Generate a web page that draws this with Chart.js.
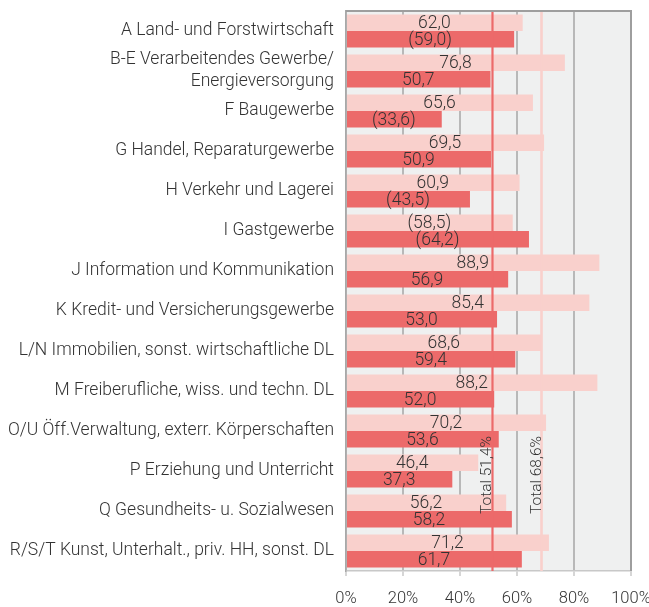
<!DOCTYPE html>
<html>
<head>
<meta charset="utf-8">
<script src="https://cdn.jsdelivr.net/npm/chart.js@4/dist/chart.umd.min.js"></script>
<style>
html,body{margin:0;padding:0;background:#fff;}
#wrap{width:649px;height:607px;position:relative;}
</style>
</head>
<body>
<div id="wrap"><canvas id="c" width="649" height="607"></canvas></div>
<script>
const categories = [
  "A Land- und Forstwirtschaft",
  ["B-E Verarbeitendes Gewerbe/", "Energieversorgung"],
  "F Baugewerbe",
  "G Handel, Reparaturgewerbe",
  "H Verkehr und Lagerei",
  "I Gastgewerbe",
  "J Information und Kommunikation",
  "K Kredit- und Versicherungsgewerbe",
  "L/N Immobilien, sonst. wirtschaftliche DL",
  "M Freiberufliche, wiss. und techn. DL",
  "O/U Öff.Verwaltung, exterr. Körperschaften",
  "P Erziehung und Unterricht",
  "Q Gesundheits- u. Sozialwesen",
  "R/S/T Kunst, Unterhalt., priv. HH, sonst. DL"
];
const lightValues = [62.0, 76.8, 65.6, 69.5, 60.9, 58.5, 88.9, 85.4, 68.6, 88.2, 70.2, 46.4, 56.2, 71.2];
const darkValues  = [59.0, 50.7, 33.6, 50.9, 43.5, 64.2, 56.9, 53.0, 59.4, 52.0, 53.6, 37.3, 58.2, 61.7];
// values shown in parentheses in the reference
const lightUncertain = [false,false,false,false,false,true,false,false,false,false,false,false,false,false];
const darkUncertain  = [true,false,true,false,true,true,false,false,false,false,false,false,false,false];
const totalDark = 51.4;
const totalLight = 68.6;
const xTicks = [0, 20, 40, 60, 80, 100];

const LIGHT = '#f9d0cc';
const DARK = '#ec6a6a';
const TXT = '#333333';
const FONT = 'Roboto';

function fmt(v, unc) {
  const s = v.toFixed(1).replace('.', ',');
  return unc ? '(' + s + ')' : s;
}

const bgPlugin = {
  id: 'bg',
  beforeDraw(chart) {
    const a = chart.chartArea, ctx = chart.ctx;
    ctx.save();
    ctx.fillStyle = '#eff0f0';
    ctx.fillRect(a.left, a.top, a.right - a.left, a.bottom - a.top);
    ctx.restore();
  }
};

const overlayPlugin = {
  id: 'overlay',
  afterDatasetsDraw(chart) {
    const ctx = chart.ctx, a = chart.chartArea;
    const xs = chart.scales.x;
    ctx.save();
    // value labels
    ctx.font = '300 17.5px ' + FONT;
    ctx.fillStyle = TXT;
    ctx.textAlign = 'center';
    ctx.textBaseline = 'middle';
    const uncs = [lightUncertain, darkUncertain];
    chart.data.datasets.forEach((ds, di) => {
      const meta = chart.getDatasetMeta(di);
      meta.data.forEach((bar, i) => {
        const v = ds.data[i];
        const cx = (xs.getPixelForValue(0) + xs.getPixelForValue(v)) / 2;
        ctx.fillText(fmt(v, uncs[di][i]), cx, bar.y + 1);
      });
    });
    // total lines
    const lines = [
      {v: totalDark, color: DARK, w: 2.2},
      {v: totalLight, color: LIGHT, w: 2.6}
    ];
    lines.forEach(l => {
      const x = xs.getPixelForValue(l.v);
      ctx.strokeStyle = l.color;
      ctx.lineWidth = l.w;
      ctx.beginPath();
      ctx.moveTo(x, a.top);
      ctx.lineTo(x, a.bottom);
      ctx.stroke();
    });
    // border top/right
    ctx.strokeStyle = '#9e9e9e';
    ctx.lineWidth = 2;
    ctx.beginPath();
    ctx.moveTo(a.left, a.top);
    ctx.lineTo(a.right, a.top);
    ctx.lineTo(a.right, a.bottom);
    ctx.stroke();
    // rotated total labels
    ctx.font = '300 15.5px ' + FONT;
    ctx.fillStyle = TXT;
    ctx.textAlign = 'left';
    ctx.textBaseline = 'alphabetic';
    const yStart = chart.scales.y.getPixelForValue(12) + 3;
    [[totalDark, 'Total '], [totalLight, 'Total ']].forEach(([v, p]) => {
      const x = xs.getPixelForValue(v) - 1;
      ctx.save();
      ctx.translate(x, yStart);
      ctx.rotate(-Math.PI / 2);
      ctx.fillText(p + v.toFixed(1).replace('.', ',') + '%', 0, 0);
      ctx.restore();
    });
    ctx.restore();
  }
};

new Chart(document.getElementById('c'), {
  type: 'bar',
  data: {
    labels: categories,
    datasets: [
      {data: lightValues, backgroundColor: LIGHT, borderWidth: 0, categoryPercentage: 0.83, barPercentage: 1.0},
      {data: darkValues, backgroundColor: DARK, borderWidth: 0, categoryPercentage: 0.83, barPercentage: 1.0}
    ]
  },
  options: {
    indexAxis: 'y',
    responsive: false,
    animation: false,
    devicePixelRatio: 1,
    layout: {padding: {top: 11, right: 18, left: 0, bottom: 0}},
    plugins: {legend: {display: false}, tooltip: {enabled: false}},
    scales: {
      x: {
        min: 0, max: 100,
        afterBuildTicks(s) { s.ticks = xTicks.map(v => ({value: v})); },
        afterFit(s) { s.height = 36; s.paddingLeft = 0; s.paddingRight = 0; },
        grid: {color: '#b8b8b8', lineWidth: 2, tickLength: 5, tickColor: '#c8c8c8', tickWidth: 1.5},
        border: {display: true, color: '#c8c8c8', width: 1.5},
        ticks: {
          color: TXT, padding: 13,
          font: {family: FONT, size: 16.5, weight: '300'},
          callback: v => v + '%',
          maxRotation: 0
        }
      },
      y: {
        afterFit(s) { s.width = 346; s.paddingTop = 0; s.paddingBottom = 0; },
        grid: {display: false, drawTicks: false, tickLength: 0},
        border: {display: true, color: '#a8a8a8', width: 1.5},
        ticks: {
          autoSkip: false,
          color: TXT, padding: 12,
          font: {family: FONT, size: 17.5, weight: '300', lineHeight: 1.25}
        }
      }
    }
  },
  plugins: [bgPlugin, overlayPlugin]
});
</script>
</body>
</html>
